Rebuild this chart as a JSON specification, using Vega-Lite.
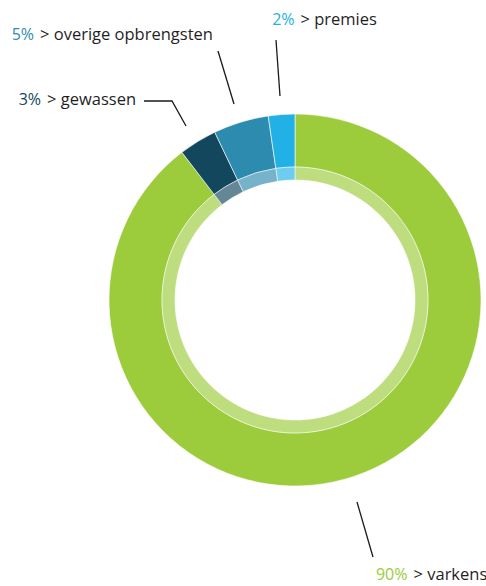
{
  "$schema": "https://vega.github.io/schema/vega-lite/v6.json",
  "autosize": {"type": "none"},
  "padding": {"left": 104, "top": 14, "right": 0, "bottom": 0},
  "width": 382,
  "height": 572,
  "background": "white",
  "config": {"view": {"stroke": null}},
  "datasets": {
    "segments": [
      {"cat": "varkens", "v": 89.6, "idx": 1},
      {"cat": "gewassen", "v": 3.3, "idx": 2},
      {"cat": "overige opbrengsten", "v": 4.8, "idx": 3},
      {"cat": "premies", "v": 2.3, "idx": 4}
    ],
    "leaders": [
      {"cat": "premies", "p": 1, "x": -19, "y": 260},
      {"cat": "premies", "p": 2, "x": -15, "y": 204},
      {"cat": "overige opbrengsten", "p": 1, "x": -77, "y": 249},
      {"cat": "overige opbrengsten", "p": 2, "x": -61, "y": 196},
      {"cat": "gewassen", "p": 1, "x": -151, "y": 199},
      {"cat": "gewassen", "p": 2, "x": -123, "y": 199},
      {"cat": "gewassen", "p": 3, "x": -109, "y": 174},
      {"cat": "varkens", "p": 1, "x": 62, "y": -202},
      {"cat": "varkens", "p": 2, "x": 78, "y": -257}
    ],
    "labels": [
      {"cat": "premies", "pct": "2%", "name": "> premies", "x": 2.5, "y": 275},
      {"cat": "overige opbrengsten", "pct": "5%", "name": "> overige opbrengsten", "x": -258, "y": 260.5},
      {"cat": "gewassen", "pct": "3%", "name": "> gewassen", "x": -251, "y": 195},
      {"cat": "varkens", "pct": "90%", "name": "> varkens", "x": 115.5, "y": -280}
    ]
  },
  "layer": [
    {
      "data": {"name": "segments"},
      "mark": {"type": "arc", "radius": 186, "radius2": 133, "stroke": "white", "strokeWidth": 0.6},
      "encoding": {
        "theta": {"field": "v", "type": "quantitative", "stack": true},
        "order": {"field": "idx", "type": "quantitative"},
        "color": {"field": "cat", "type": "nominal", "legend": null,
          "scale": {"domain": ["varkens", "gewassen", "overige opbrengsten", "premies"],
                    "range": ["#9ccb3b", "#12475e", "#2e8bb0", "#21b1e6"]}}
      }
    },
    {
      "data": {"name": "segments"},
      "mark": {"type": "arc", "radius": 133, "radius2": 120, "opacity": 0.65, "stroke": "white", "strokeWidth": 0.6},
      "encoding": {
        "theta": {"field": "v", "type": "quantitative", "stack": true},
        "order": {"field": "idx", "type": "quantitative"},
        "color": {"field": "cat", "type": "nominal", "legend": null}
      }
    },
    {
      "data": {"name": "leaders"},
      "mark": {"type": "line", "color": "#1a1a1a", "strokeWidth": 1.3},
      "encoding": {
        "x": {"field": "x", "type": "quantitative", "axis": null, "scale": {"domain": [-191, 191], "nice": false, "zero": false}},
        "y": {"field": "y", "type": "quantitative", "axis": null, "scale": {"domain": [-286, 286], "nice": false, "zero": false}},
        "detail": {"field": "cat"},
        "order": {"field": "p", "type": "quantitative"}
      }
    },
    {
      "data": {"name": "labels"},
      "mark": {"type": "text", "align": "right", "baseline": "alphabetic", "dx": -3, "font": "Open Sans", "fontSize": 16},
      "encoding": {
        "x": {"field": "x", "type": "quantitative"},
        "y": {"field": "y", "type": "quantitative"},
        "text": {"field": "pct"},
        "color": {"field": "cat", "type": "nominal", "legend": null}
      }
    },
    {
      "data": {"name": "labels"},
      "mark": {"type": "text", "align": "left", "baseline": "alphabetic", "dx": 3, "font": "Open Sans", "fontSize": 16.5, "color": "#1f1f1f"},
      "encoding": {
        "x": {"field": "x", "type": "quantitative"},
        "y": {"field": "y", "type": "quantitative"},
        "text": {"field": "name"}
      }
    }
  ]
}
